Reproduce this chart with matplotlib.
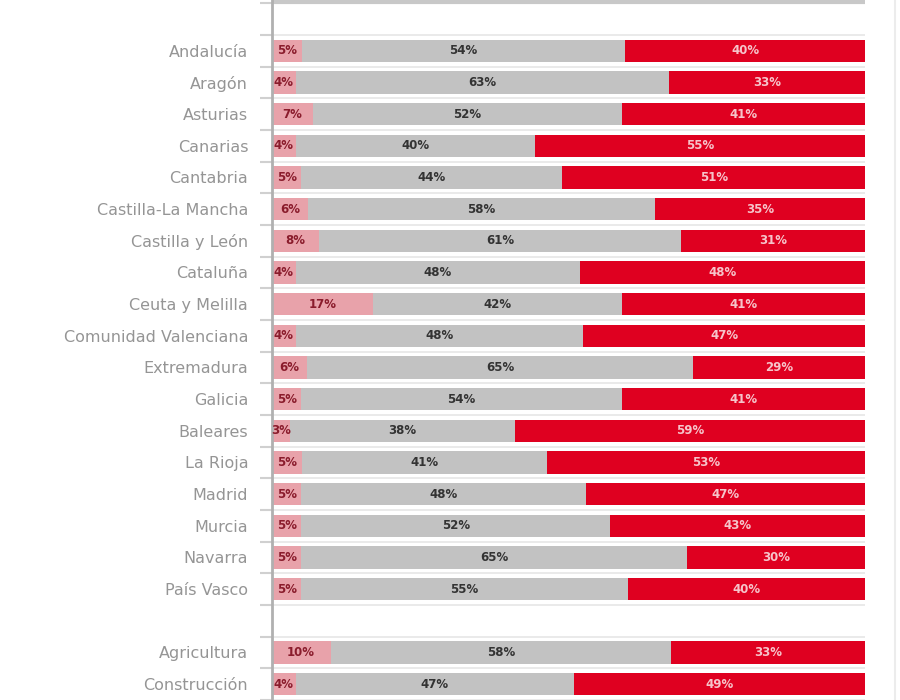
import matplotlib.pyplot as plt
from matplotlib.lines import Line2D

# regiones y sectores (hueco vacio entre los dos grupos)
categorias = ["Andalucía", "Aragón", "Asturias", "Canarias", "Cantabria",
              "Castilla-La Mancha", "Castilla y León", "Cataluña", "Ceuta y Melilla",
              "Comunidad Valenciana", "Extremadura", "Galicia", "Baleares", "La Rioja",
              "Madrid", "Murcia", "Navarra", "País Vasco", "", "Agricultura", "Construcción"]

serie_1 = [5, 4, 7, 4, 5, 6, 8, 4, 17, 4, 6, 5, 3, 5, 5, 5, 5, 5, None, 10, 4]
serie_2 = [54, 63, 52, 40, 44, 58, 61, 48, 42, 48, 65, 54, 38, 41, 48, 52, 65, 55, None, 58, 47]
serie_3 = [40, 33, 41, 55, 51, 35, 31, 48, 41, 47, 29, 41, 59, 53, 47, 43, 30, 40, None, 33, 49]

col_1 = "#e8a2aa"
col_2 = "#c2c2c2"
col_3 = "#df0020"

fig = plt.figure(figsize=(9, 7), dpi=100)
ax = fig.add_axes([0.302, 0.0, 0.659, 1.0])

alto = 0.7
for i, cat in enumerate(categorias):
    a, b, c = serie_1[i], serie_2[i], serie_3[i]
    if a is None:
        continue
    # barras al 100% (los redondeos no siempre suman 100)
    f = 100 / (a + b + c)
    wa, wb, wc = a * f, b * f, c * f
    ax.barh(i, wa, height=alto, color=col_1)
    ax.barh(i, wb, left=wa, height=alto, color=col_2)
    ax.barh(i, wc, left=wa + wb, height=alto, color=col_3)
    ax.text(wa / 2, i, f"{a}%", ha="center", va="center", fontsize=8.5,
            fontweight="bold", color="#8a1c2c")
    ax.text(wa + wb / 2, i, f"{b}%", ha="center", va="center", fontsize=8.5,
            fontweight="bold", color="#333333")
    ax.text(wa + wb + wc / 2, i, f"{c}%", ha="center", va="center", fontsize=8.5,
            fontweight="bold", color="#f6c4ca")

# lineas separadoras entre filas
for k in range(-1, len(categorias)):
    ax.axhline(k + 0.5, color="#e6e6e6", lw=1.2, zorder=0)
ax.axhline(-1.55, color="#c8c8c8", lw=3, zorder=0)

ax.set_xlim(0, 100)
ax.set_ylim(20.41, -1.604)
ax.set_yticks(range(len(categorias)))
ax.set_yticklabels(categorias, fontsize=11.5, color="#959595")
ax.set_yticks([k + 0.5 for k in range(-2, len(categorias))], minor=True)
ax.tick_params(axis="y", which="major", length=0, pad=17)
ax.tick_params(axis="y", which="minor", length=9, color="#d0d0d0", width=1.5)
ax.set_xticks([])
for s in ["top", "right", "bottom"]:
    ax.spines[s].set_visible(False)
ax.spines["left"].set_color("#b0b0b0")
ax.spines["left"].set_linewidth(2)

fig.add_artist(Line2D([0.994, 0.994], [0, 1], color="#ececec", lw=1.5))

fig.savefig("out.png", dpi=100)
